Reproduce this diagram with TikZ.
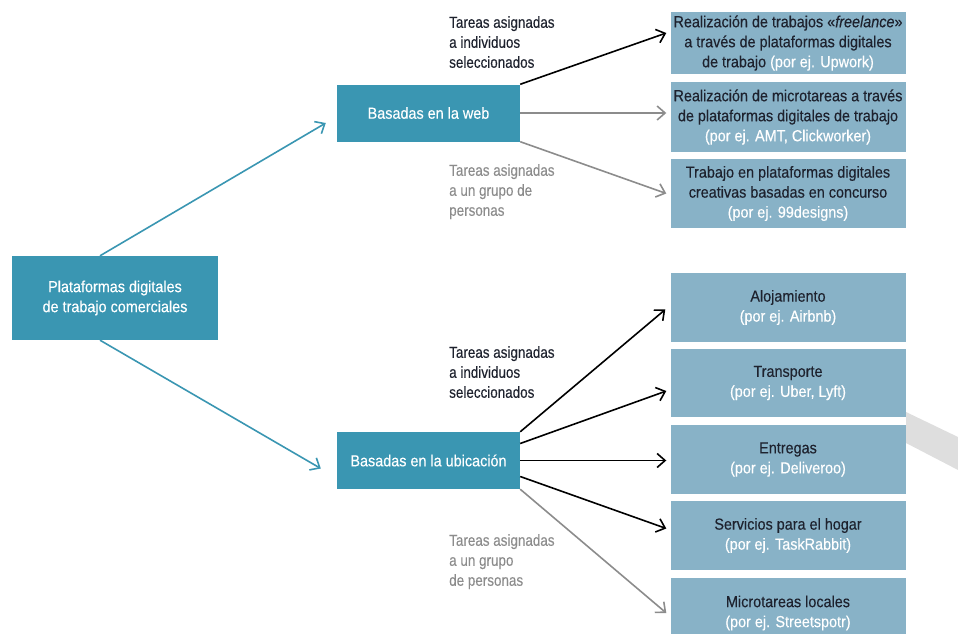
\documentclass[tikz,border=0pt]{standalone}
\usepackage{fontspec}
\setmainfont{Liberation Sans}[FakeStretch=0.84,FakeBold=0.3]
\newfontfamily\boxfont{Liberation Sans}[FakeStretch=0.9,FakeBold=0.3]
\usetikzlibrary{arrows.meta,calc}
\definecolor{tealbox}{RGB}{58,150,178}
\definecolor{lightbox}{RGB}{136,178,199}
\definecolor{darktext}{RGB}{30,34,46}
\definecolor{greyline}{RGB}{140,140,140}
\definecolor{bandgrey}{RGB}{222,222,222}
\tikzset{
  mainbox/.style={fill=tealbox, text=white, align=center, inner sep=0pt, font=\boxfont\fontsize{16}{20}\selectfont},
  subbox/.style={fill=lightbox, text=darktext, align=center, minimum width=235pt, inner sep=0pt, font=\boxfont\fontsize{16}{20}\selectfont},
  tag/.style={anchor=north west, align=left, inner sep=0pt, font=\fontsize{16}{20}\selectfont},
  link/.style={line width=1.6pt, -{Straight Barb[length=8pt,width=14pt]}},
}
\newcommand{\ej}[1]{\textcolor{white}{#1}}

\begin{document}
\begin{tikzpicture}[x=1pt,y=-1pt]
            \useasboundingbox (0,0) rectangle (958,634);
            \clip (0,0) rectangle (958,634);
            % grey band on the right
            \fill [bandgrey] (906,412) -- (958,437) -- (958,470) -- (906,443) -- cycle;
            % main box
            \node [mainbox, minimum width=206pt, minimum height=84pt] (plat) at (115,298) {Plataformas digitales\\de trabajo comerciales};
            % web box
            \node [mainbox, minimum width=183pt, minimum height=57pt] (web) at (428.5,113) {Basadas en la web};
            % location box
            \node [mainbox, minimum width=183pt, minimum height=57pt] (ubic) at (428.5,460.5) {Basadas en la ubicaci\'on};
            % web work boxes
            \node [subbox, minimum height=62pt] (free) at (788,43) {Realizaci\'on de trabajos \guillemotleft\textit{freelance}\guillemotright\\a trav\'es de plataformas digitales\\de trabajo \ej{(por ej. Upwork)}};
            \node [subbox, minimum height=70pt] (micro) at (788,117) {Realizaci\'on de microtareas a trav\'es\\de plataformas digitales de trabajo\\\ej{(por ej. AMT, Clickworker)}};
            \node [subbox, minimum height=69pt] (conc) at (788,193.5) {Trabajo en plataformas digitales\\creativas basadas en concurso\\\ej{(por ej. 99designs)}};
            % location work boxes
            \node [subbox, minimum height=69pt] (aloj) at (788,307.5) {Alojamiento\\\ej{(por ej. Airbnb)}};
            \node [subbox, minimum height=68pt] (trans) at (788,383) {Transporte\\\ej{(por ej. Uber, Lyft)}};
            \node [subbox, minimum height=69pt] (entr) at (788,459.5) {Entregas\\\ej{(por ej. Deliveroo)}};
            \node [subbox, minimum height=69pt] (hogar) at (788,535.5) {Servicios para el hogar\\\ej{(por ej. TaskRabbit)}};
            \node [subbox, minimum height=70pt] (local) at (788,613) {Microtareas locales\\\ej{(por ej. Streetspotr)}};
            % labels
            \node [tag, text=darktext] (indweb) at (449,16) {Tareas asignadas\\a individuos\\seleccionados};
            \node [tag, text=greyline] (grpweb) at (449,164) {Tareas asignadas\\a un grupo de\\personas};
            \node [tag, text=darktext] (indubic) at (449,346) {Tareas asignadas\\a individuos\\seleccionados};
            \node [tag, text=greyline] (grpubic) at (449,534) {Tareas asignadas\\a un grupo\\de personas};
            % arrows from main box
            \draw [link, tealbox] ($(plat.north)+(-15,0)$) -- ($(web.west)+(-11,10)$);
            \draw [link, tealbox] ($(plat.south)+(-15,0)$) -- ($(ubic.west)+(-16,8)$);
            % arrows from web box
            \draw [link, black] (web.north east) -- ($(free.west)+(-4,-10)$);
            \draw [link, greyline] (web.east) -- ($(web.east -| micro.west)+(-4,0)$);
            \draw [link, greyline] (web.south east) -- ($(conc.west)+(-4,0)$);
            % arrows from location box
            \draw [link, black] (ubic.north east) -- ($(aloj.west)+(-5,2)$);
            \draw [link, black] ($(ubic.east)+(0,-17)$) -- ($(trans.west)+(-4,8)$);
            \draw [link, black] (ubic.east) -- ($(ubic.east -| entr.west)+(-4,0)$);
            \draw [link, black] ($(ubic.east)+(0,16)$) -- ($(hogar.west)+(-4,-7)$);
            \draw [link, greyline] (ubic.south east) -- ($(local.west)+(-4,0)$);
\end{tikzpicture}
\end{document}
